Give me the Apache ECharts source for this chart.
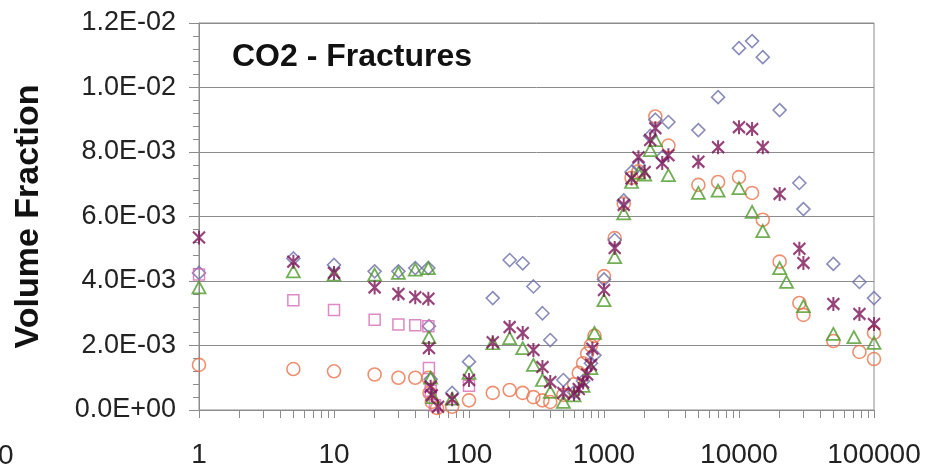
<!DOCTYPE html>
<html>
<head>
<meta charset="utf-8">
<script src="https://cdn.jsdelivr.net/npm/echarts@6/dist/echarts.min.js"></script>
<style>
  html, body { margin: 0; padding: 0; background: #ffffff; }
  #chart { width: 930px; height: 464px; }
</style>
</head>
<body>
<div id="chart"></div>
<script>
// Volume fraction of CO2 in fractures versus size (log scale), five measurement sets.
const diamondPts = [
  [1, 4.25e-3], [5, 4.7e-3], [10, 4.5e-3], [20, 4.3e-3], [30, 4.3e-3], [40, 4.4e-3], [50, 4.4e-3],
  [50.5, 2.6e-3], [52, 0.95e-3], [75, 0.53e-3], [100, 1.5e-3], [150, 3.47e-3], [200, 4.65e-3],
  [250, 4.55e-3], [300, 3.83e-3], [350, 3.0e-3], [400, 2.17e-3], [500, 0.93e-3], [600, 0.55e-3],
  [700, 0.9e-3], [800, 1.45e-3], [850, 1.7e-3], [1000, 4.05e-3], [1200, 5.27e-3], [1400, 6.5e-3],
  [1600, 7.38e-3], [1800, 7.6e-3], [2200, 8.5e-3], [2400, 9.0e-3], [2700, 7.84e-3], [3000, 8.93e-3],
  [5000, 8.68e-3], [7000, 9.7e-3], [10000, 11.22e-3], [12500, 11.44e-3], [15000, 10.94e-3],
  [20000, 9.3e-3], [28000, 7.04e-3], [30000, 6.23e-3], [50000, 4.53e-3], [78000, 3.97e-3],
  [100000, 3.47e-3]
];
const starPts = [
  [1, 5.35e-3], [5, 4.6e-3], [10, 4.25e-3], [20, 3.8e-3], [30, 3.6e-3], [40, 3.5e-3], [50, 3.45e-3],
  [50.5, 1.92e-3], [52, 0.72e-3], [53, 0.46e-3], [59, 0.1e-3], [75, 0.33e-3], [100, 0.93e-3],
  [150, 2.1e-3], [200, 2.57e-3], [250, 2.39e-3], [300, 1.86e-3], [350, 1.33e-3], [400, 0.87e-3],
  [500, 0.53e-3], [600, 0.5e-3], [650, 0.65e-3], [700, 0.85e-3], [750, 1.1e-3], [800, 1.4e-3],
  [820, 1.9e-3], [1000, 3.72e-3], [1200, 5.02e-3], [1400, 6.36e-3], [1600, 7.18e-3], [1800, 7.84e-3],
  [2000, 7.38e-3], [2200, 8.37e-3], [2400, 8.74e-3], [2700, 7.66e-3], [3000, 7.9e-3], [5000, 7.7e-3],
  [7000, 8.15e-3], [10000, 8.77e-3], [12500, 8.71e-3], [15000, 8.15e-3], [20000, 6.7e-3],
  [28000, 5.0e-3], [30000, 4.56e-3], [50000, 3.29e-3], [78000, 2.98e-3], [100000, 2.67e-3]
];
const trianglePts = [
  [1, 3.8e-3], [5, 4.3e-3], [10, 4.2e-3], [20, 4.2e-3], [30, 4.25e-3], [40, 4.35e-3], [50, 4.4e-3],
  [50.5, 2.26e-3], [52, 1.0e-3], [54, 0.4e-3], [75, 0.35e-3], [100, 1.15e-3], [150, 2.07e-3],
  [200, 2.23e-3], [250, 1.92e-3], [300, 1.4e-3], [350, 0.93e-3], [400, 0.56e-3], [500, 0.25e-3],
  [600, 0.45e-3], [700, 0.75e-3], [800, 1.3e-3], [850, 2.39e-3], [1000, 3.41e-3], [1200, 4.74e-3],
  [1400, 6.1e-3], [1600, 7.07e-3], [1800, 7.35e-3], [2000, 7.3e-3], [2200, 8.06e-3], [2400, 8.37e-3],
  [3000, 7.28e-3], [5000, 6.73e-3], [7000, 6.8e-3], [10000, 6.88e-3], [12500, 6.14e-3],
  [15000, 5.55e-3], [20000, 4.4e-3], [22500, 3.97e-3], [30000, 3.22e-3], [50000, 2.36e-3],
  [71000, 2.26e-3], [100000, 2.08e-3]
];
const squarePts = [
  [1, 4.2e-3], [5, 3.4e-3], [10, 3.1e-3], [20, 2.8e-3], [30, 2.65e-3], [40, 2.63e-3], [50, 2.6e-3],
  [50.5, 1.3e-3], [52, 0.6e-3], [56, 0.15e-3], [100, 0.75e-3]
];
const circlePts = [
  [1, 1.4e-3], [5, 1.27e-3], [10, 1.2e-3], [20, 1.1e-3], [30, 1.0e-3], [40, 1.0e-3], [50, 1.0e-3],
  [51, 0.53e-3], [53, 0.25e-3], [58, 0.06e-3], [75, 0.1e-3], [100, 0.3e-3], [150, 0.53e-3],
  [200, 0.62e-3], [250, 0.53e-3], [300, 0.4e-3], [350, 0.3e-3], [400, 0.25e-3], [500, 0.47e-3],
  [600, 0.8e-3], [650, 1.15e-3], [700, 1.45e-3], [750, 1.75e-3], [800, 2.0e-3], [850, 2.3e-3],
  [1000, 4.15e-3], [1200, 5.33e-3], [1400, 6.4e-3], [1600, 7.2e-3], [1800, 7.4e-3], [2400, 9.1e-3],
  [3000, 8.2e-3], [5000, 6.98e-3], [7000, 7.07e-3], [10000, 7.22e-3], [12500, 6.73e-3],
  [15000, 5.9e-3], [20000, 4.6e-3], [28000, 3.32e-3], [30000, 2.95e-3], [50000, 2.14e-3],
  [78000, 1.8e-3], [100000, 2.39e-3], [100000, 1.58e-3]
];

const xLabelValues = [1, 10, 100, 1000, 10000, 100000];
const xTickValues = [];
for (let d = 1; d <= 10000; d *= 10) {
  for (let k = 1; k <= 9; k++) xTickValues.push(k * d);
}
xTickValues.push(100000);

const FONT = '"Liberation Sans", Arial, sans-serif';
const STAR_PATH = 'path://M0,1L10,11M10,1L0,11M5,0L5,12';

function sciLabel(v) {
  const s = Number(v).toExponential(1);
  const parts = s.split('e');
  const exp = parseInt(parts[1], 10);
  const sign = exp < 0 ? '-' : '+';
  const digits = String(Math.abs(exp)).padStart(2, '0');
  return parts[0] + 'E' + sign + digits;
}

function hollow(name, data, symbol, size, color, width) {
  return {
    name: name,
    type: 'scatter',
    data: data,
    symbol: symbol,
    symbolSize: size,
    itemStyle: { color: 'transparent', borderColor: color, borderWidth: width },
    emphasis: { disabled: true },
    z: 3
  };
}

const chart = echarts.init(document.getElementById('chart'), null, { renderer: 'canvas' });
chart.setOption({
  animation: false,
  backgroundColor: '#ffffff',
  grid: {
    left: 199, right: 56, top: 23, bottom: 54,
    containLabel: false, outerBoundsMode: 'none',
    show: true, borderColor: '#8c8c8c', borderWidth: 1, backgroundColor: 'transparent'
  },
  graphic: [
    {
      type: 'text', left: 232, top: 41, z: 10,
      style: { text: 'CO2 - Fractures', fontFamily: FONT, fontSize: 32, fontWeight: 'bold', fill: '#111111' }
    },
    {
      type: 'text', left: -2, top: 442, z: 10,
      style: { text: '0', fontFamily: FONT, fontSize: 28, fill: '#222222' }
    }
  ],
  xAxis: {
    type: 'log', logBase: 10, min: 1, max: 100000,
    axisLine: { lineStyle: { color: '#8c8c8c', width: 1 } },
    axisTick: { show: true, inside: false, length: 8, lineStyle: { color: '#8c8c8c' }, customValues: xTickValues },
    axisLabel: {
      customValues: xLabelValues, margin: 31, color: '#222222',
      fontFamily: FONT, fontSize: 28,
      formatter: function (v) { return String(Math.round(v)); }
    },
    splitLine: { show: false },
    minorTick: { show: false }
  },
  yAxis: {
    type: 'value', min: 0, max: 0.012, interval: 0.002,
    name: 'Volume Fraction', nameLocation: 'middle', nameRotate: 90, nameGap: 153,
    nameTextStyle: { fontFamily: FONT, fontSize: 34, fontWeight: 'bold', color: '#111111' },
    axisLine: { show: true, lineStyle: { color: '#8c8c8c', width: 1 } },
    axisTick: { show: true, length: 10, lineStyle: { color: '#8c8c8c' } },
    minorTick: { show: true, splitNumber: 5, length: 6, lineStyle: { color: '#8c8c8c' } },
    axisLabel: {
      margin: 23, color: '#222222',
      fontFamily: FONT, fontSize: 27,
      formatter: sciLabel
    },
    splitLine: { show: true, lineStyle: { color: '#8c8c8c', width: 1 } }
  },
  series: [
    hollow('circle', circlePts, 'circle', 13, '#e8744e', 1.6),
    hollow('diamond', diamondPts, 'diamond', 13, '#6d6fa8', 1.6),
    hollow('square', squarePts, 'rect', 11, '#d46cb4', 1.5),
    hollow('triangle', trianglePts, 'triangle', [13, 12], '#4f9a2c', 1.8),
    hollow('star', starPts, STAR_PATH, [12, 14], '#7c1458', 2.2)
  ]
});
</script>
</body>
</html>
